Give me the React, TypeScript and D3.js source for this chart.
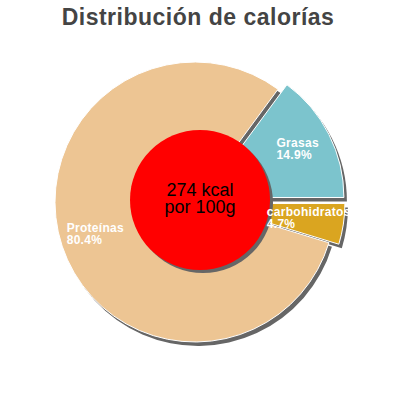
import React, { useEffect, useRef } from 'react';
import * as d3 from 'd3';

// slice order clockwise, starting at 3 o'clock
const categories = ['carbohidratos', 'Proteínas', 'Grasas'];
const values = [4.7, 80.4, 14.9];
const colors = ['#daa520', '#edc593', '#7cc4cd'];
const exploded = [true, false, true];

const title = 'Distribución de calorías';
const centerLines = ['274 kcal', 'por 100g'];

export default function App() {
    const svgRef = useRef<SVGSVGElement>(null);

    useEffect(() => {
        if (!svgRef.current) return;
        const svg = d3.select(svgRef.current);
        svg.selectAll('*').remove();

        const width = 400;
        const cx = 195, cy = 202;
        const radius = 140;
        const explode = 10;
        const shadow = { dx: 3, dy: 4 };
        const font = 'Liberation Sans, Arial, sans-serif';

        const data = categories.map((c, i) => ({ name: c, value: values[i], color: colors[i], exploded: exploded[i] }));

        const pie = d3.pie<typeof data[0]>()
            .value(d => d.value)
            .sort(null)
            .startAngle(Math.PI / 2)
            .endAngle(Math.PI / 2 + 2 * Math.PI);

        const arcs = pie(data);
        const arc = d3.arc<d3.PieArcDatum<typeof data[0]>>()
            .innerRadius(0)
            .outerRadius(radius);

        const offset = (d: d3.PieArcDatum<typeof data[0]>, r: number) => {
            const a = (d.startAngle + d.endAngle) / 2;
            return [Math.sin(a) * r, -Math.cos(a) * r];
        };
        const shift = (d: d3.PieArcDatum<typeof data[0]>) => {
            const [x, y] = offset(d, d.data.exploded ? explode : 0);
            return `translate(${x},${y})`;
        };

        const g = svg.append('g').attr('transform', `translate(${cx},${cy})`);

        // shadows
        g.append('g')
            .attr('transform', `translate(${shadow.dx},${shadow.dy})`)
            .selectAll('path')
            .data(arcs)
            .join('path')
            .attr('d', arc)
            .attr('transform', shift)
            .attr('fill', '#666');

        // slices
        g.append('g')
            .selectAll('path')
            .data(arcs)
            .join('path')
            .attr('d', arc)
            .attr('transform', shift)
            .attr('fill', d => d.data.color)
            .attr('stroke', '#fff')
            .attr('stroke-width', 1);

        // center disc
        const holeR = 70;
        const hx = 200 - cx, hy = 200 - cy;
        g.append('circle').attr('cx', hx + 3).attr('cy', hy + 3).attr('r', holeR).attr('fill', '#666');
        g.append('circle').attr('cx', hx).attr('cy', hy).attr('r', holeR).attr('fill', '#ff0000');

        centerLines.forEach((t, i) => {
            g.append('text')
                .attr('x', hx)
                .attr('y', hy - 4 + i * 17)
                .attr('text-anchor', 'middle')
                .attr('font-family', font)
                .attr('font-size', 18)
                .attr('fill', '#000')
                .text(t);
        });

        // slice labels: block centred at 0.75R along the bisector
        arcs.forEach(d => {
            const [ax, ay] = offset(d, radius * 0.75 + (d.data.exploded ? explode : 0));
            const lines = [d.data.name, `${d.data.value}%`];
            const texts = lines.map((t, i) => g.append('text')
                .attr('y', ay - 3 + i * 12)
                .attr('font-family', font)
                .attr('font-size', 12)
                .attr('font-weight', 'bold')
                .attr('letter-spacing', 0.3)
                .attr('fill', '#fff')
                .text(t));
            const maxW = d3.max(texts, s => (s.node() as SVGTextElement).getComputedTextLength()) || 0;
            texts.forEach(s => s.attr('x', ax - maxW / 2));
        });

        // title
        svg.append('text')
            .attr('x', width / 2 - 2)
            .attr('y', 25)
            .attr('text-anchor', 'middle')
            .attr('font-family', font)
            .attr('font-size', 23)
            .attr('font-weight', 'bold')
            .attr('letter-spacing', 0.5)
            .attr('fill', '#444')
            .text(title);
    }, []);

    return (
        <svg ref={svgRef} width={400} height={400}
            style={{ position: 'fixed', left: 0, top: 0, background: '#fff' }} />
    );
}
